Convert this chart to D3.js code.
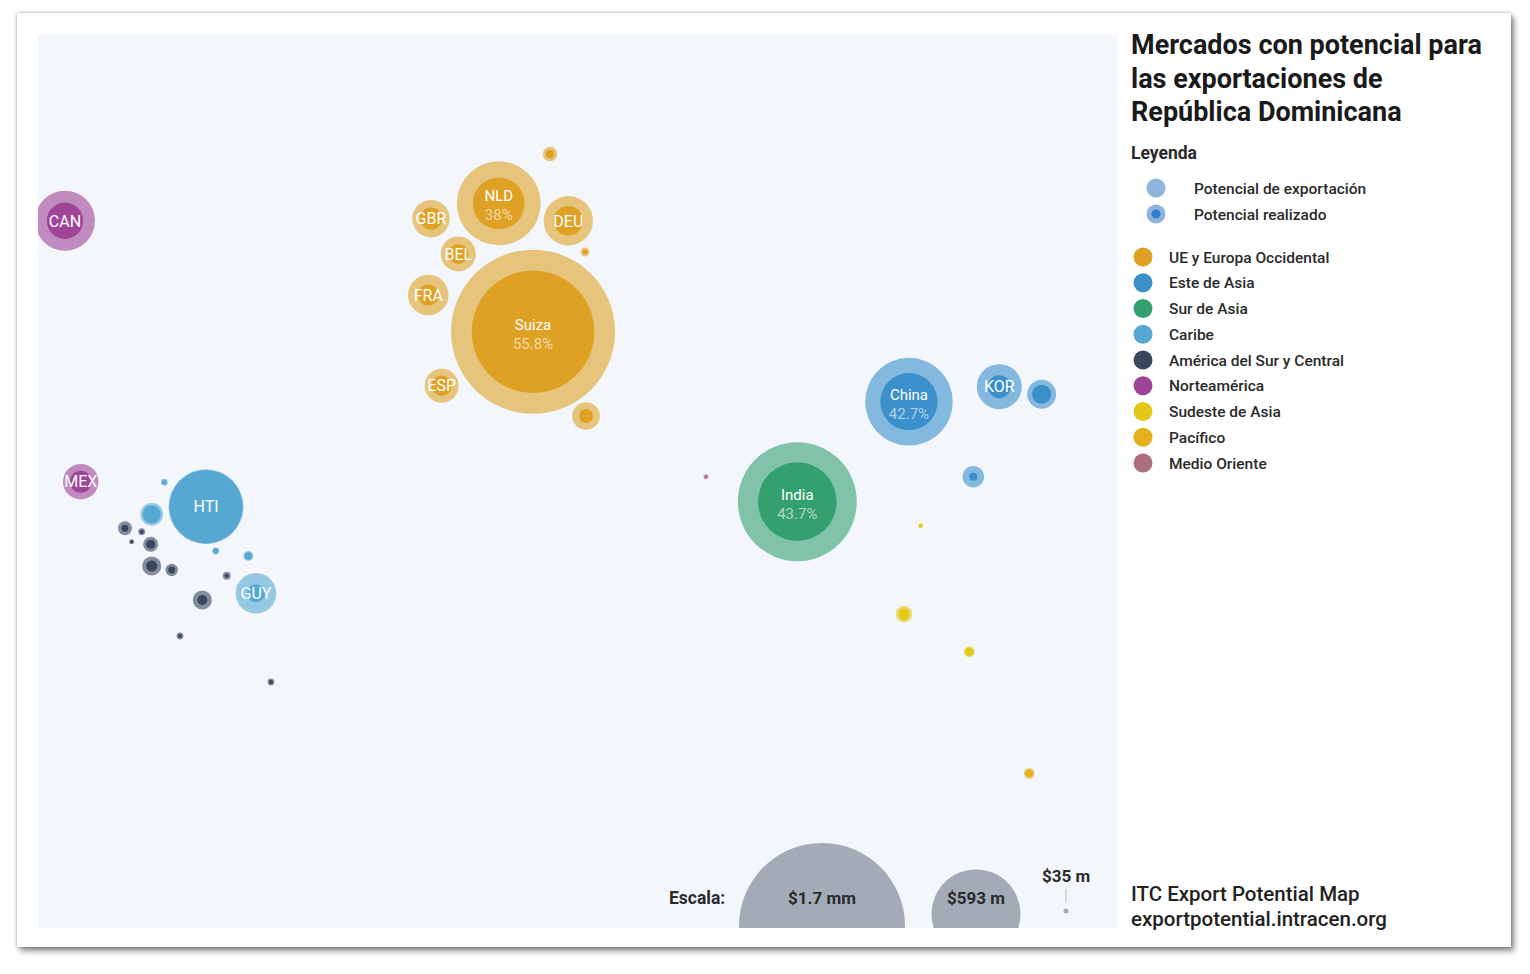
<!DOCTYPE html>
<html>
<head>
<meta charset="utf-8">
<script src="https://cdn.jsdelivr.net/npm/d3@7"></script>
<style>
  html, body { margin: 0; padding: 0; background: #ffffff; }
  body { width: 1530px; height: 974px; position: relative; overflow: hidden; font-family: Roboto, "Noto Sans", Arial, sans-serif; }
  #frame { position: absolute; left: 17px; top: 13px; width: 1494px; height: 934px; background: #ffffff;
           box-shadow: 0 0 3px rgba(0,0,0,0.35), 3px 4px 6px rgba(0,0,0,0.45); }
  svg { position: absolute; left: 0; top: 0; }
</style>
</head>
<body>
<div id="frame"></div>
<svg id="chart" width="1530" height="974"></svg>
<script>
// ---------------- DATA ----------------
const regionNames = ["UE y Europa Occidental", "Este de Asia", "Sur de Asia", "Caribe",
  "América del Sur y Central", "Norteamérica", "Sudeste de Asia", "Pacífico", "Medio Oriente"];
const regionColors = ["#dfa124", "#3b8fcb", "#35a06f", "#56a8d2", "#38465e", "#9e4597", "#e3c816", "#e2b11c", "#ad6f7e"];

// markets: label, region index, export potential ($ m), realized share, layout position (0-100)
const marketLabels = ["Suiza", "NLD", "China", "India", "CAN", "HTI", "DEU", "FRA", "GBR", "BEL",
  "ESP", "GUY", "KOR", "MEX", "", "", "", "", "", "",
  "", "", "", "", "", "", "", "", "", "",
  "", "", "", "", "", "", "", ""];
const marketShareLabels = ["55.8%", "38%", "42.7%", "43.7%", "", "", "", "", "", "",
  "", "", "", "", "", "", "", "", "", "",
  "", "", "", "", "", "", "", "", "", "",
  "", "", "", "", "", "", "", ""];
const marketRegion = [0, 0, 1, 2, 5, 3, 0, 0, 0, 0,
  0, 3, 1, 5, 0, 0, 0, 1, 1, 3,
  3, 3, 3, 4, 4, 4, 4, 4, 4, 4,
  4, 4, 4, 8, 6, 6, 6, 7];
const potentialValues = [1664, 540, 578, 956, 323, 452, 245, 188, 170, 156,
  151, 188, 216, 159, 118, 64, 46, 125, 91, 96,
  40, 40, 49, 62, 40, 35, 66, 81, 57, 43,
  81, 40, 40, 35, 35, 72, 52, 52];
const realizedShares = [0.558, 0.38, 0.427, 0.437, 0.37, 0.96, 0.354, 0.27, 0.35, 0.33,
  0.35, 0.2, 0.26, 0.38, 0.26, 0.35, 0.3, 0.43, 0.14, 0.63,
  0.5, 0.6, 0.58, 0.25, 0.35, 0.4, 0.36, 0.34, 0.31, 0.25,
  0.28, 0.33, 0.33, 0.4, 0.5, 0.44, 0.53, 0.5];
const layoutX = [45.88, 42.70, 80.72, 70.37, 2.50, 15.57, 49.15, 36.17, 36.42, 38.95,
  37.41, 20.20, 89.09, 3.96, 50.79, 47.45, 50.70, 93.02, 86.68, 10.54,
  11.71, 16.47, 19.49, 8.06, 9.61, 8.68, 10.44, 10.54, 12.39, 17.49,
  15.23, 13.16, 21.59, 61.91, 81.81, 80.26, 86.31, 91.87];
const layoutY = [33.23, 18.85, 41.06, 52.26, 20.80, 52.82, 20.80, 29.12, 20.57, 24.52,
  39.27, 62.52, 39.38, 50.02, 42.67, 13.33, 24.30, 40.24, 49.46, 53.67,
  50.09, 57.78, 58.34, 55.24, 55.62, 56.74, 57.03, 59.46, 59.91, 60.55,
  63.27, 67.30, 72.45, 49.46, 54.95, 64.84, 69.06, 82.68];

const scaleValues = [1700, 593, 35];
const scaleLabels = ["$1.7 mm", "$593 m", "$35 m"];

const titleLines = ["Mercados con potencial para", "las exportaciones de", "República Dominicana"];
const legendTitle = "Leyenda";
const sizeLegendLabels = ["Potencial de exportación", "Potencial realizado"];
const footerLines = ["ITC Export Potential Map", "exportpotential.intracen.org"];

// ---------------- DRAW ----------------
const svg = d3.select("#chart");
const plot = { x0: 38, y0: 35, x1: 1117, y1: 928 };
const bg = "#f3f7fc";

const x = d3.scaleLinear().domain([0, 100]).range([plot.x0, plot.x1]);
const y = d3.scaleLinear().domain([0, 100]).range([plot.y0, plot.y1]);
const r = d3.scaleSqrt().domain([35, 1700]).range([2.5, 83]);
const color = d3.scaleOrdinal().domain(d3.range(regionNames.length)).range(regionColors);

svg.append("rect").attr("x", plot.x0).attr("y", plot.y0)
  .attr("width", plot.x1 - plot.x0).attr("height", plot.y1 - plot.y0).attr("fill", bg);

svg.append("clipPath").attr("id", "plotclip").append("rect")
  .attr("x", plot.x0).attr("y", plot.y0)
  .attr("width", plot.x1 - plot.x0).attr("height", plot.y1 - plot.y0);

const g = svg.append("g").attr("clip-path", "url(#plotclip)");

const markets = potentialValues.map((v, i) => ({
  label: marketLabels[i], share: marketShareLabels[i], region: marketRegion[i],
  value: v, realized: realizedShares[i], x: layoutX[i], y: layoutY[i]
}));

const node = g.selectAll("g.m").data(markets).join("g").attr("class", "m")
  .attr("transform", d => `translate(${x(d.x)},${y(d.y)})`);
node.append("circle").attr("r", d => r(d.value))
  .attr("fill", d => color(d.region)).attr("fill-opacity", 0.6);
node.append("circle").attr("r", d => r(d.value) * Math.sqrt(d.realized))
  .attr("fill", d => color(d.region));

node.filter(d => d.label && !d.share).append("text")
  .attr("text-anchor", "middle").attr("dy", "0.36em")
  .attr("font-size", 16).attr("fill", "#ffffff").text(d => d.label);
const two = node.filter(d => d.label && d.share);
two.append("text").attr("text-anchor", "middle").attr("y", -2)
  .attr("font-size", 15).attr("fill", "#ffffff").text(d => d.label);
two.append("text").attr("text-anchor", "middle").attr("y", 17)
  .attr("font-size", 15).attr("fill", "#ffffff").attr("fill-opacity", 0.6).text(d => d.share);

// size scale legend
const scaleG = g.append("g");
const scaleCx = [822, 976, 1066];
const scaleCy = [926, 914, 911];
scaleG.selectAll("circle").data(scaleValues).join("circle")
  .attr("cx", (d, i) => scaleCx[i]).attr("cy", (d, i) => scaleCy[i])
  .attr("r", d => r(d)).attr("fill", "#a2abb6");
scaleG.selectAll("text.sl").data(scaleLabels.slice(0, 2)).join("text").attr("class", "sl")
  .attr("x", (d, i) => scaleCx[i]).attr("y", 904).attr("text-anchor", "middle")
  .attr("font-size", 17).attr("font-weight", 700).attr("fill", "#2a2a2a").text(d => d);
scaleG.append("text").attr("x", scaleCx[2]).attr("y", 882).attr("text-anchor", "middle")
  .attr("font-size", 17).attr("font-weight", 700).attr("fill", "#2a2a2a").text(scaleLabels[2]);
scaleG.append("line").attr("x1", scaleCx[2]).attr("x2", scaleCx[2]).attr("y1", 889).attr("y2", 902)
  .attr("stroke", "#b5bcc5").attr("stroke-width", 1);
svg.append("text").attr("x", 669).attr("y", 904).attr("font-size", 17.5).attr("font-weight", 700)
  .attr("fill", "#2a2a2a").text("Escala:");

// right panel
const side = svg.append("g");
side.selectAll("text.t").data(titleLines).join("text").attr("class", "t")
  .attr("x", 1131).attr("y", (d, i) => 54 + i * 33.5)
  .attr("font-size", 27).attr("font-weight", 700).attr("fill", "#1a1a1a").text(d => d);
side.append("text").attr("x", 1131).attr("y", 159).attr("font-size", 17.5).attr("font-weight", 700)
  .attr("fill", "#2a2a2a").text(legendTitle);

// potential / realized legend
const sizeLeg = side.selectAll("g.sz").data(sizeLegendLabels).join("g").attr("class", "sz")
  .attr("transform", (d, i) => `translate(1156,${188 + i * 26})`);
sizeLeg.append("circle").attr("r", 9.5).attr("fill", "#8fb3da");
sizeLeg.filter((d, i) => i === 1).append("circle").attr("r", 4.5).attr("fill", "#2f7fd0");
sizeLeg.append("text").attr("x", 38).attr("y", 5.5).attr("font-size", 15.5).attr("font-weight", 500)
  .attr("fill", "#2a2a2a").text(d => d);

// region legend
const regLeg = side.selectAll("g.rg").data(regionNames).join("g").attr("class", "rg")
  .attr("transform", (d, i) => `translate(1143,${257 + i * 25.75})`);
regLeg.append("circle").attr("r", 9.5).attr("fill", (d, i) => color(i));
regLeg.append("text").attr("x", 26).attr("y", 5.5).attr("font-size", 15.5).attr("font-weight", 500)
  .attr("fill", "#2a2a2a").text(d => d);

side.selectAll("text.f").data(footerLines).join("text").attr("class", "f")
  .attr("x", 1131).attr("y", (d, i) => 901 + i * 25)
  .attr("font-size", 20.5).attr("font-weight", 500).attr("fill", "#222").text(d => d);
</script>
</body>
</html>
